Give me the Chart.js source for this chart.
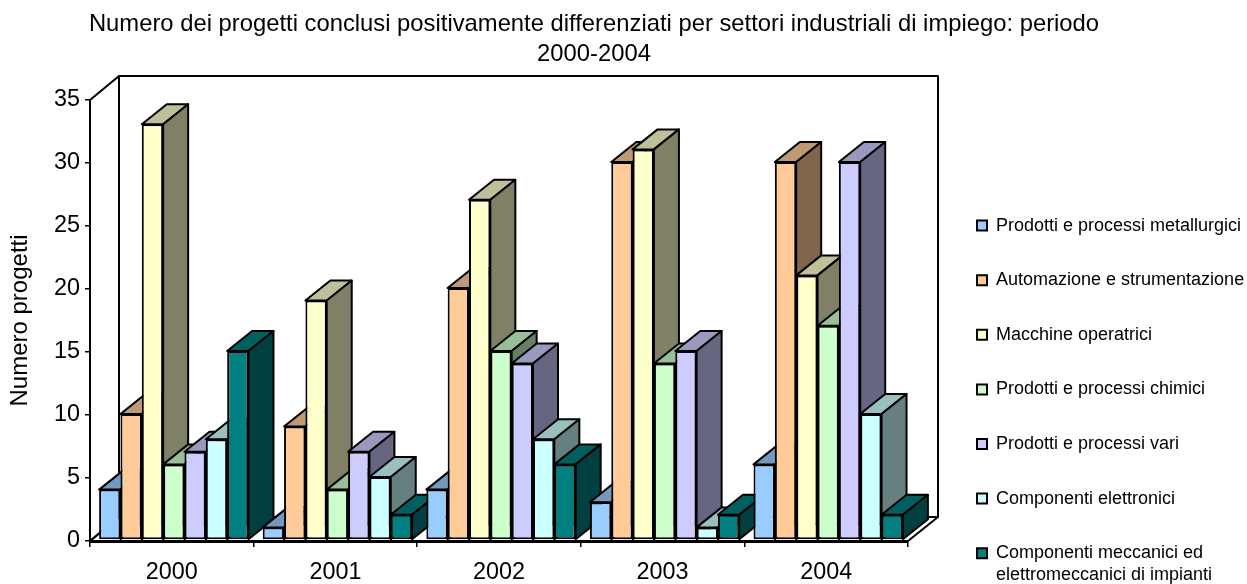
<!DOCTYPE html>
<html lang="it">
<head>
  <meta charset="UTF-8">
  <title>Numero dei progetti</title>
  <script src="https://cdn.jsdelivr.net/npm/chart.js"></script>
  <style>
    html, body { margin: 0; background: #fff; }
    canvas { display: block; }
  </style>
</head>
<body>
  <canvas id="projects" width="1247" height="584"></canvas>

  <script>
    const years = ['2000', '2001', '2002', '2003', '2004'];

    const metallurgici = [4, 1, 4, 3, 6];
    const automazione = [10, 9, 20, 30, 30];
    const macchine = [33, 19, 27, 31, 21];
    const chimici = [6, 4, 15, 14, 17];
    const vari = [7, 7, 14, 15, 30];
    const elettronici = [8, 5, 8, 1, 10];
    const meccanici = [15, 2, 6, 2, 2];

    const seriesValues = [metallurgici, automazione, macchine, chimici, vari, elettronici, meccanici];
    const seriesNames = [
      'Prodotti e processi metallurgici',
      'Automazione e strumentazione',
      'Macchine operatrici',
      'Prodotti e processi chimici',
      'Prodotti e processi vari',
      'Componenti elettronici',
      ['Componenti meccanici ed', 'elettromeccanici di impianti']
    ];

    const frontColors = ['#99CCFF', '#FFCC99', '#FFFFCC', '#CCFFCC', '#CCCCFF', '#CCFFFF', '#008080'];
    const topColors = ['#7399BF', '#BF9973', '#BFBF99', '#99BF99', '#9999BF', '#99BFBF', '#006060'];
    const sideColors = ['#4D6680', '#80664D', '#808066', '#668066', '#666680', '#668080', '#004040'];

    const FONT = '"Liberation Sans", Arial, sans-serif';
    const INK = '#000';
    const WALL_DX = 29, WALL_DY = 24;
    const BAR_DX = 25, BAR_DY = 20;
    const BAR_SHIFT_X = 2, BAR_SHIFT_Y = -1;
    const LEGEND_PAD = 36.6;

    function poly(ctx, pts, fill) {
      ctx.beginPath();
      pts.forEach((p, i) => i ? ctx.lineTo(p[0], p[1]) : ctx.moveTo(p[0], p[1]));
      ctx.closePath();
      if (fill) {
        ctx.fillStyle = fill;
        ctx.fill();
      }
      ctx.stroke();
    }

    const box3d = {
      id: 'box3d',
      afterLayout(chart) {
        // title and legend do not sit where the layout would put them
        chart.titleBlock.left = 0;
        chart.titleBlock.right = 1188;
        const lg = chart.legend;
        const w = lg.width, h = lg.height;
        lg.left = 977 - LEGEND_PAD;
        lg.right = lg.left + w;
        lg.top = 180;
        lg.bottom = lg.top + h;
      },
      beforeDatasetsDraw(chart) {
        const ctx = chart.ctx;
        const a = chart.chartArea;
        ctx.save();
        ctx.strokeStyle = INK;
        ctx.lineJoin = 'round';

        // walls and floor
        ctx.lineWidth = 2;
        poly(ctx, [[a.left, a.bottom], [a.left, a.top], [a.left + WALL_DX, a.top - WALL_DY], [a.left + WALL_DX, a.bottom - WALL_DY]]);
        poly(ctx, [[a.left + WALL_DX, a.top - WALL_DY], [a.right + WALL_DX + 1, a.top - WALL_DY], [a.right + WALL_DX + 1, a.bottom - WALL_DY], [a.left + WALL_DX, a.bottom - WALL_DY]]);
        poly(ctx, [[a.left, a.bottom], [a.left + WALL_DX, a.bottom - WALL_DY], [a.right + WALL_DX + 1, a.bottom - WALL_DY], [a.right, a.bottom]]);

        // category by category so the next bar hides the side of the one before
        ctx.translate(BAR_SHIFT_X, BAR_SHIFT_Y);
        years.forEach((year, c) => {
          seriesValues.forEach((vals, s) => {
            const bar = chart.getDatasetMeta(s).data[c];
            const { x, y, base, width } = bar.getProps(['x', 'y', 'base', 'width']);
            const l = x - width / 2, r = x + width / 2;
            ctx.lineWidth = 2;
            ctx.strokeStyle = INK;
            poly(ctx, [[l, y], [l + BAR_DX, y - BAR_DY], [r + BAR_DX, y - BAR_DY], [r, y]], topColors[s]);
            poly(ctx, [[r, y], [r + BAR_DX, y - BAR_DY], [r + BAR_DX, base - BAR_DY], [r, base]], sideColors[s]);
            bar.draw(ctx);
          });
        });
        ctx.restore();
        return false;
      }
    };

    new Chart(document.getElementById('projects'), {
      type: 'bar',
      data: {
        labels: years,
        datasets: seriesValues.map((vals, i) => ({
          label: [].concat(seriesNames[i]).join(' '),
          data: vals,
          backgroundColor: frontColors[i],
          borderColor: INK,
          borderWidth: 2,
          borderSkipped: false,
          categoryPercentage: 0.913,
          barPercentage: 1
        }))
      },
      plugins: [box3d],
      options: {
        responsive: false,
        animation: false,
        layout: {
          autoPadding: false,
          padding: { left: 6, right: 339, top: 0, bottom: 0 }
        },
        plugins: {
          tooltip: { enabled: false },
          title: {
            display: true,
            text: ['Numero dei progetti conclusi positivamente differenziati per settori industriali di impiego: periodo', '2000-2004'],
            color: INK,
            font: { family: FONT, size: 23.8, weight: 'normal', lineHeight: 1.26 },
            padding: { top: 9, bottom: 31 }
          },
          legend: {
            position: 'chartArea',
            align: 'start',
            labels: {
              color: INK,
              boxWidth: 10,
              boxHeight: 10,
              padding: LEGEND_PAD,
              font: { family: FONT, size: 18 },
              textAlign: 'left',
              generateLabels: () => seriesNames.map((name, i) => ({
                text: name,
                fillStyle: frontColors[i],
                strokeStyle: INK,
                fontColor: INK,
                lineWidth: 2,
                datasetIndex: i
              }))
            }
          }
        },
        scales: {
          x: {
            afterFit(scale) { scale.height = 43; },
            grid: { display: true, drawOnChartArea: false, color: INK, lineWidth: 1.5, tickLength: 6 },
            border: { display: true, color: INK, width: 3, z: 1 },
            ticks: { color: INK, padding: 12, maxRotation: 0, font: { family: FONT, size: 23.4 } }
          },
          y: {
            min: 0,
            max: 35,
            afterFit(scale) { scale.width = 84; },
            title: { display: true, text: 'Numero progetti', color: INK, padding: 0, font: { family: FONT, size: 24 } },
            grid: { display: true, drawOnChartArea: false, color: INK, lineWidth: 1.5, tickLength: 5 },
            border: { display: true, color: INK, width: 2 },
            ticks: { stepSize: 5, color: INK, padding: 5, font: { family: FONT, size: 23.4 } }
          }
        }
      }
    });
  </script>
</body>
</html>
